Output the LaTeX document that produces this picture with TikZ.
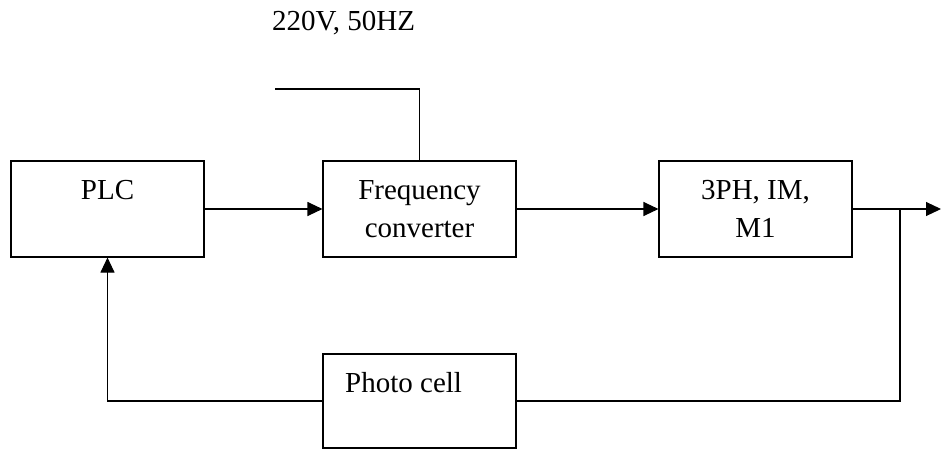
\documentclass[tikz,border=0pt]{standalone}
\usepackage{fontspec}
\setmainfont{Liberation Serif}
\usetikzlibrary{arrows.meta}
\begin{document}
\begin{tikzpicture}[x=1pt,y=-1pt,
  box/.style={draw,line width=1.1pt,minimum width=193pt,minimum height=96pt,inner sep=0pt},
  lbl/.style={anchor=base,inner sep=0pt,font=\fontsize{29}{39}\selectfont},
  conn/.style={line width=1.1pt},
  arr/.style={conn,-{Triangle[length=15pt,width=14pt]}}]
\useasboundingbox (0,0) rectangle (942,450);
\node[box] (plc) at (107.5,209) {};
\node[box] (fc) at (419.5,209) {};
\node[box] (m) at (755.5,209) {};
\node[box,minimum height=94pt] (pc) at (419.5,401) {};
\node[lbl] (tplc) at (107.5,199) {PLC};
\node[lbl] (tfc1) at (419.5,199) {Frequency};
\node[lbl] (tfc2) at (419.5,237) {converter};
\node[lbl] (tm1) at (755.5,199) {3PH, IM,};
\node[lbl] (tm2) at (755.5,237) {M1};
\node[lbl,anchor=base west] (tpc) at (345,392) {Photo cell};
\node[lbl,anchor=base west] (tsup) at (272,30) {220V, 50HZ};
\coordinate (p) at (275,89);
\coordinate (j) at (900,209);
\coordinate (out) at (941,209);
\draw[conn] (p) -| (fc.north);
\draw[arr] (plc.east) -- (fc.west);
\draw[arr] (fc.east) -- (m.west);
\draw[arr] (m.east) -- (out);
\draw[conn] (j) |- (pc.east);
\draw[arr] (pc.west) -| (plc.south);
\end{tikzpicture}
\end{document}
